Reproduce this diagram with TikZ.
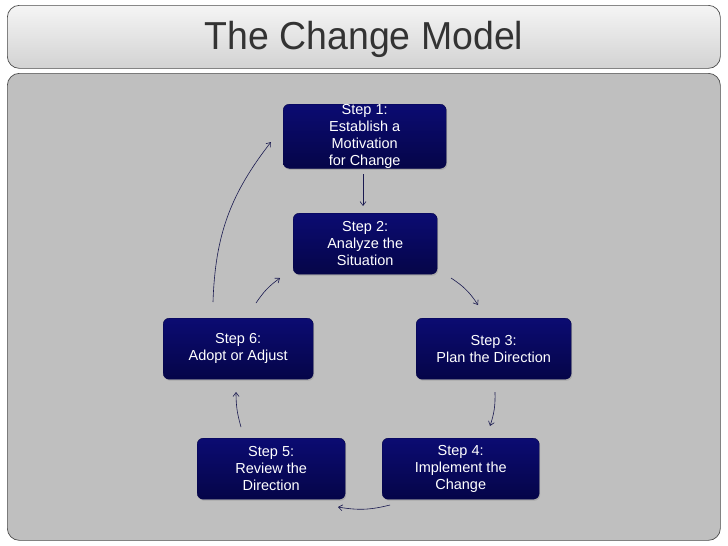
\documentclass[tikz,border=0pt]{standalone}
\usepackage{fontspec}
\setmainfont{Liberation Sans}
\usetikzlibrary{arrows.meta,shadows}
\definecolor{navy}{HTML}{0B0B72}
\definecolor{navyd}{HTML}{050548}
\definecolor{arr}{HTML}{1A1A50}
\tikzset{
 stepbox/.style={rounded corners=6pt, top color=navy, bottom color=navyd, draw=navyd, text=white, align=center, font=\fontsize{14.5}{17}\selectfont, anchor=north west, inner sep=0pt, drop shadow={opacity=0.35,shadow xshift=1pt,shadow yshift=-1.5pt}},
 conn/.style={draw=arr, line width=0.6pt, -{Straight Barb[length=4pt,width=6pt]}},
 panel/.style={rounded corners=12pt, draw=gray!60!black, line width=0.7pt}
}
\begin{document}
\begin{tikzpicture}[x=1pt,y=-1pt]
\useasboundingbox (0,0) rectangle (728,546);
\fill[white] (0,0) rectangle (728,546);
\node[panel, top color=gray!8, bottom color=gray!35, minimum width=713, minimum height=63, anchor=north west] (tp) at (7,5) {};
\node[font=\fontsize{39}{42}\selectfont, text=black!80, xscale=0.96] (title) at (364,39) {The Change Model};
\node[panel, fill=black!25, minimum width=713, minimum height=467, anchor=north west] (mp) at (7,73) {};
\node[stepbox, minimum width=163, minimum height=63] (s1) at (283,104) {Step 1:\\Establish a\\Motivation\\for Change};
\node[stepbox, minimum width=144, minimum height=61] (s2) at (293,213) {Step 2:\\Analyze the\\Situation};
\node[stepbox, minimum width=155, minimum height=61] (s3) at (416,318) {Step 3:\\Plan the Direction};
\node[stepbox, minimum width=157, minimum height=61] (s4) at (382,438) {Step 4:\\Implement the\\Change};
\node[stepbox, minimum width=148, minimum height=61] (s5) at (197,438) {Step 5:\\Review the\\Direction};
\node[stepbox, minimum width=150, minimum height=61] (s6) at (163,318) {Step 6:\\Adopt or Adjust};
\coordinate (a1) at (363,174); \coordinate (b1) at (363,206);
\draw[conn] (a1) -- (b1);
\coordinate (a2) at (451,278); \coordinate (b2) at (478,305);
\draw[conn] (a2) to[bend left=12] (b2);
\coordinate (a3) at (495,392); \coordinate (b3) at (490,426);
\draw[conn] (a3) to[bend left=10] (b3);
\coordinate (a4) at (390,505); \coordinate (b4) at (338,507);
\draw[conn] (a4) to[bend left=12] (b4);
\coordinate (a5) at (241,427); \coordinate (b5) at (236,392);
\draw[conn] (a5) to[bend left=8] (b5);
\coordinate (a6) at (256,303); \coordinate (b6) at (280,278);
\draw[conn] (a6) to[bend left=10] (b6);
\coordinate (a7) at (213,302); \coordinate (b7) at (271,142);
\draw[conn] (a7) to[bend left=18] (b7);
\end{tikzpicture}
\end{document}
